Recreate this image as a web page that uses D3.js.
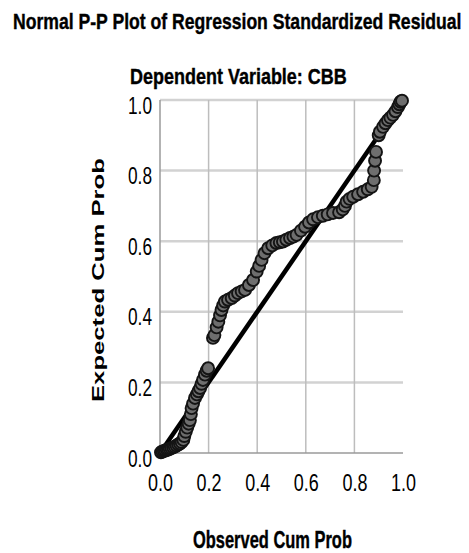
<!DOCTYPE html>
<html>
<head>
<meta charset="utf-8">
<script src="https://cdn.jsdelivr.net/npm/d3@7"></script>
<style>
  html, body { margin: 0; padding: 0; background: #fff; }
  svg { display: block; }
  text { font-family: "Liberation Sans Narrow", "Liberation Sans", Arial, sans-serif; fill: #000; }
</style>
</head>
<body>
<svg id="chart" width="469" height="553"></svg>
<script>
// ---- data ----
const title = "Normal P-P Plot of Regression Standardized Residual";
const subtitle = "Dependent Variable: CBB";
const xLabel = "Observed Cum Prob";
const yLabel = "Expected Cum Prob";
const tickValues = [0, 0.2, 0.4, 0.6, 0.8, 1.0];
const tickLabels = ["0.0", "0.2", "0.4", "0.6", "0.8", "1.0"];
const referenceLine = [[0, 0], [1, 1]];

const observed = [
  0.004,0.010,0.016,0.022,0.028,0.034,0.040,0.047,0.054,0.061,0.068,0.075,0.082,0.089,0.096,
  0.100,0.106,0.112,0.118,0.123,0.127,0.130,0.136,0.144,0.152,0.158,0.165,0.171,0.177,0.185,
  0.192,0.198,0.218,0.224,0.233,0.240,0.247,0.253,0.260,0.267,0.280,0.295,0.308,0.321,0.336,
  0.350,0.366,0.383,0.398,0.408,0.418,0.430,0.445,0.462,0.479,0.493,0.506,0.520,0.535,0.549,
  0.562,0.580,0.597,0.613,0.630,0.650,0.670,0.690,0.712,0.737,0.752,0.761,0.768,0.780,0.795,
  0.815,0.836,0.855,0.871,0.880,0.881,0.885,0.889,0.900,0.905,0.918,0.928,0.938,0.948,0.959,
  0.969,0.979,0.985,0.990,0.996
];
const expected = [
  0.002,0.004,0.006,0.007,0.009,0.010,0.012,0.014,0.016,0.018,0.021,0.024,0.027,0.031,0.037,
  0.048,0.060,0.072,0.083,0.093,0.110,0.127,0.140,0.156,0.166,0.175,0.184,0.196,0.207,0.222,
  0.233,0.240,0.326,0.334,0.356,0.372,0.390,0.405,0.418,0.429,0.434,0.439,0.446,0.453,0.458,
  0.462,0.476,0.490,0.514,0.530,0.547,0.566,0.580,0.588,0.595,0.597,0.599,0.604,0.609,0.613,
  0.618,0.630,0.641,0.653,0.662,0.668,0.672,0.676,0.680,0.682,0.690,0.700,0.712,0.720,0.726,
  0.733,0.740,0.747,0.754,0.773,0.800,0.828,0.853,0.900,0.910,0.924,0.934,0.943,0.950,0.958,
  0.968,0.980,0.988,0.995,0.998
];

// ---- layout ----
const svg = d3.select("#chart");
const x = d3.scaleLinear().domain([0, 1]).range([160, 403]);
const y = d3.scaleLinear().domain([0, 1]).range([453, 100]);

// draw a text starting at (x0, baseline) squeezed/stretched to a given width via transform
function fitText(str, x0, base, width, size, rotate, family) {
  const t = svg.append("text")
    .attr("font-size", size).attr("font-weight", "bold")
    .style("font-family", family || "'Liberation Sans Narrow','Liberation Sans',Arial,sans-serif")
    .text(str);
  const w = t.node().getComputedTextLength();
  const s = width / w;
  if (rotate) {
    t.attr("transform", `translate(${x0},${base}) rotate(-90) scale(${s},1)`);
  } else {
    t.attr("transform", `translate(${x0},${base}) scale(${s},1)`);
  }
  return t;
}

// titles
fitText(title, 13, 29, 449, 22).style("stroke", "#000").style("stroke-width", 0.4);
fitText(subtitle, 130, 84, 217, 22).style("stroke", "#000").style("stroke-width", 0.4);

// grid
const grid = svg.append("g");
grid.selectAll("line.h").data(tickValues.filter(d => d > 0)).join("line")
  .attr("class", "h")
  .attr("x1", x(0)).attr("x2", x(1))
  .attr("y1", d => y(d)).attr("y2", d => y(d))
  .attr("stroke", "#d2d2d2").attr("stroke-width", 2.5);
grid.selectAll("line.v").data(tickValues.filter(d => d > 0 && d < 1)).join("line")
  .attr("class", "v")
  .attr("x1", d => x(d)).attr("x2", d => x(d))
  .attr("y1", y(1)).attr("y2", y(0))
  .attr("stroke", "#bdbdbd").attr("stroke-width", 1.5);

// axes lines
svg.append("line").attr("x1", x(0)).attr("x2", x(0)).attr("y1", y(1)).attr("y2", y(0))
  .attr("stroke", "#9a9a9a").attr("stroke-width", 1.5);
svg.append("line").attr("x1", x(0)).attr("x2", x(1)).attr("y1", y(0)).attr("y2", y(0))
  .attr("stroke", "#9a9a9a").attr("stroke-width", 1.5);

// tick labels via d3 axes
const fmt = (d, i) => tickLabels[i];
const xAxis = svg.append("g").attr("transform", `translate(0,${y(0)})`)
  .call(d3.axisBottom(x).tickValues(tickValues).tickFormat(fmt).tickSize(0));
xAxis.select(".domain").remove();
xAxis.selectAll("text")
  .attr("y", 38).attr("dy", 0)
  .attr("font-size", 23)
  .attr("textLength", 25).attr("lengthAdjust", "spacingAndGlyphs")
  .style("font-family", "'Liberation Sans Narrow','Liberation Sans',Arial,sans-serif")
  .attr("fill", "#111");

const yAxis = svg.append("g").attr("transform", `translate(${x(0)},0)`)
  .call(d3.axisLeft(y).tickValues(tickValues).tickFormat(fmt).tickSize(0));
yAxis.select(".domain").remove();
yAxis.selectAll("text")
  .attr("x", -8).attr("y", 13).attr("dy", 0)
  .attr("font-size", 23)
  .attr("textLength", 24).attr("lengthAdjust", "spacingAndGlyphs")
  .style("font-family", "'Liberation Sans Narrow','Liberation Sans',Arial,sans-serif")
  .attr("fill", "#111");

// axis titles
fitText(xLabel, 193, 548, 159, 24).style("stroke", "#000").style("stroke-width", 0.4);
fitText(yLabel, 104, 402, 244, 17, true, "'Liberation Sans',Arial,sans-serif");

// reference line
svg.append("path")
  .datum(referenceLine)
  .attr("d", d3.line().x(d => x(d[0])).y(d => y(d[1])))
  .attr("stroke", "#000").attr("stroke-width", 4.5).attr("fill", "none");

// points
const pts = observed.map((o, i) => ({ o, e: expected[i] }));
svg.append("g").selectAll("circle").data(pts).join("circle")
  .attr("cx", d => x(d.o)).attr("cy", d => y(d.e)).attr("r", 6)
  .attr("fill", "#6e6e6e").attr("stroke", "#141414").attr("stroke-width", 1.9);
</script>
</body>
</html>
